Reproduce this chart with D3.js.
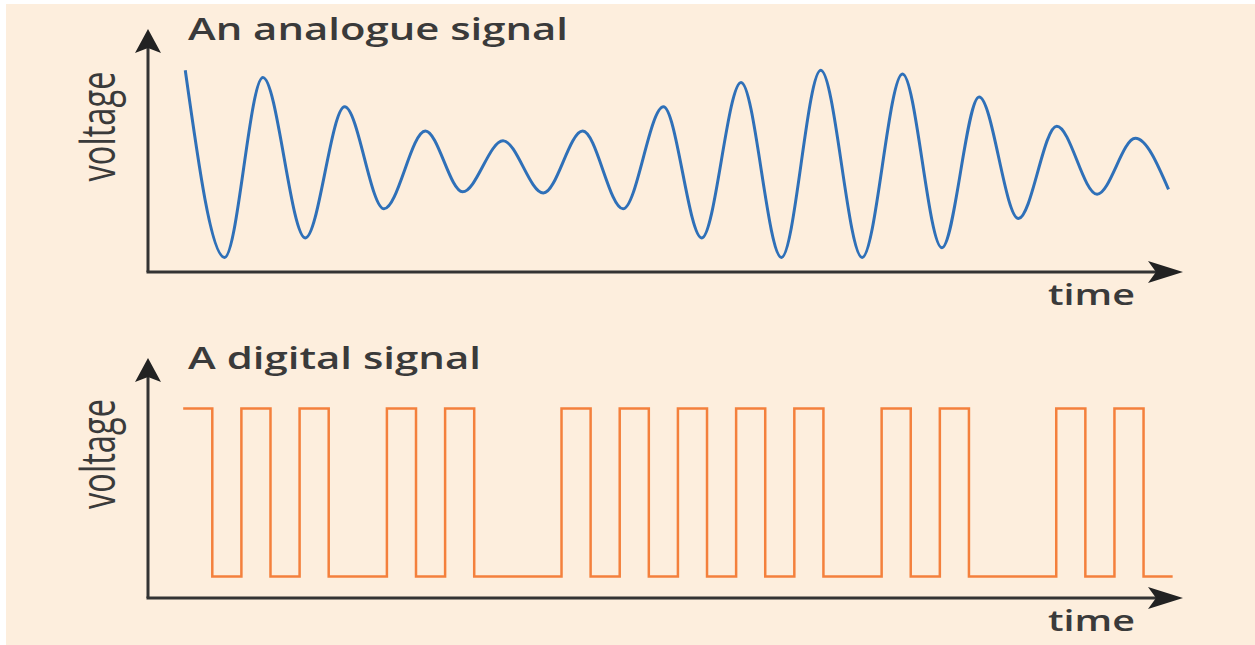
<!DOCTYPE html>
<html>
<head>
<meta charset="utf-8">
<script src="https://cdn.jsdelivr.net/npm/d3@7"></script>
<style>
  body { margin: 0; background: #ffffff; }
  svg { display: block; }
</style>
</head>
<body>
<svg></svg>
<script>
width = 1255;
height = 645;

// analogue signal, read at its peaks and troughs (time 0-100, voltage 0-10)
let waveTime = [3.6, 7.4, 11.1, 15.2, 19.0, 22.8, 26.8, 30.4, 34.3, 38.2, 42.0, 45.9, 49.8,
                53.5, 57.3, 61.2, 65.0, 69.0, 72.9, 76.7, 80.3, 84.1, 87.8, 91.7, 95.4, 98.6];
let waveVolt = [8.3, 0.6, 8.0, 1.4, 6.8, 2.6, 5.8, 3.3, 5.4, 3.25, 5.8, 2.6, 6.8,
                1.4, 7.8, 0.6, 8.3, 0.6, 8.15, 1.0, 7.2, 2.2, 6.0, 3.2, 5.5, 3.4];

// digital signal, one bit per clock period
let bits = [1, 0, 1, 0, 1, 0, 0, 1, 0, 1, 0, 0, 0, 1, 0, 1, 0,
            1, 0, 1, 0, 1, 0, 0, 1, 0, 1, 0, 0, 0, 1, 0, 1, 0];
let bitStart = 3.4;
let bitEnd = 99.0;
let levels = [0.9, 7.9];   // low, high voltage

let titles = ["An analogue signal", "A digital signal"];
let yLabel = "voltage";
let xLabel = "time";

let svg = d3.select("svg").attr("width", width).attr("height", height);

svg.append("rect")
    .attr("x", 6)
    .attr("y", 4)
    .attr("width", width - 6)
    .attr("height", height - 4)
    .style("fill", "#fdeedd");

let x = d3.scaleLinear().domain([0, 100]).range([148, 1183]);

function PANEL(top, bottom, title, titleWidth){
    let y = d3.scaleLinear().domain([0, 10]).range([bottom, top]);
    let g = svg.append("g");

    // axes
    g.append("line")
        .attr("x1", x(0)).attr("y1", y(0))
        .attr("x2", x(0)).attr("y2", y(10) + 18)
        .style("stroke", "#333")
        .style("stroke-width", 3);
    g.append("line")
        .attr("x1", x(0) - 1.5).attr("y1", y(0))
        .attr("x2", x(100) - 26).attr("y2", y(0))
        .style("stroke", "#333")
        .style("stroke-width", 3);

    // arrow heads
    g.append("path")
        .attr("d", "M0,0 L13,24 L0,19 L-13,24 Z")
        .attr("transform", "translate(" + x(0) + "," + y(10) + ")")
        .style("fill", "#222");
    g.append("path")
        .attr("d", "M0,0 L-35,-11 L-27,0 L-35,11 Z")
        .attr("transform", "translate(" + x(100) + "," + y(0) + ")")
        .style("fill", "#222");

    g.append("text")
        .attr("x", 188)
        .attr("y", y(10) + 11)
        .attr("textLength", titleWidth)
        .attr("lengthAdjust", "spacingAndGlyphs")
        .style("font-family", "'Open Sans', sans-serif")
        .style("font-weight", 600)
        .style("font-size", "30px")
        .style("fill", "#3a3a3a")
        .text(title);

    g.append("text")
        .attr("x", 1048)
        .attr("y", y(0) + 33)
        .attr("textLength", 87)
        .attr("lengthAdjust", "spacingAndGlyphs")
        .style("font-family", "'Open Sans', sans-serif")
        .style("font-weight", 600)
        .style("font-size", "28px")
        .style("fill", "#3a3a3a")
        .text(xLabel);

    g.append("text")
        .attr("transform", "translate(115," + ((y(0) + y(10)) / 2 - 24) + ") scale(1.6,1) rotate(-90)")
        .attr("text-anchor", "middle")
        .attr("textLength", 110)
        .attr("lengthAdjust", "spacingAndGlyphs")
        .style("font-family", "'Open Sans', sans-serif")
        .style("font-size", "30px")
        .style("fill", "#3a3a3a")
        .text(yLabel);

    return y;
}

let yTop = PANEL(29, 272, titles[0], 380);
let yBot = PANEL(358, 598, titles[1], 293);

// analogue curve through the read extrema
let wave = waveTime.map(function(t, i){ return [t, waveVolt[i]]; });
let waveLine = d3.line()
    .x(function(d){ return x(d[0]); })
    .y(function(d){ return yTop(d[1]); })
    .curve(d3.curveMonotoneX);

svg.append("path")
    .attr("d", waveLine(wave))
    .style("fill", "none")
    .style("stroke", "#2f70b8")
    .style("stroke-width", 3);

// digital square wave
let xb = d3.scaleLinear().domain([0, bits.length]).range([x(bitStart), x(bitEnd)]);
let steps = bits.map(function(b, i){ return [i, levels[b]]; });
steps.push([bits.length, levels[bits[bits.length - 1]]]);

let stepLine = d3.line()
    .x(function(d){ return xb(d[0]); })
    .y(function(d){ return yBot(d[1]); })
    .curve(d3.curveStepAfter);

svg.append("path")
    .attr("d", stepLine(steps))
    .style("fill", "none")
    .style("stroke", "#f4803c")
    .style("stroke-width", 2.5);
</script>
</body>
</html>
